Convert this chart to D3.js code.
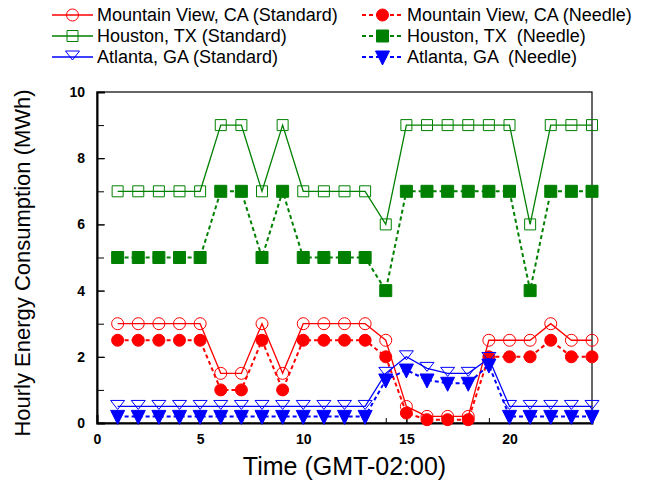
<!DOCTYPE html>
<html>
<head>
<meta charset="utf-8">
<script src="https://cdn.jsdelivr.net/npm/d3@7"></script>
<style>
  body { margin: 0; background: #fff; }
  text { font-family: "Liberation Sans", Arial, sans-serif; }
</style>
</head>
<body>
<div id="chart"></div>
<script>
// hours of the day
var hours = [1,2,3,4,5,6,7,8,9,10,11,12,13,14,15,16,17,18,19,20,21,22,23,24];

// series values (MWh)
var mvStandard  = [3,3,3,3,3,1.5,1.5,3,1.5,3,3,3,3,2.5,0.5,0.2,0.2,0.2,2.5,2.5,2.5,3,2.5,2.5];
var mvNeedle    = [2.5,2.5,2.5,2.5,2.5,1,1,2.5,1,2.5,2.5,2.5,2.5,2,0.3,0.1,0.1,0.1,2,2,2,2.5,2,2];
var houStandard = [7,7,7,7,7,9,9,7,9,7,7,7,7,6,9,9,9,9,9,9,6,9,9,9];
var houNeedle   = [5,5,5,5,5,7,7,5,7,5,5,5,5,4,7,7,7,7,7,7,4,7,7,7];
var atlStandard = [0.5,0.5,0.5,0.5,0.5,0.5,0.5,0.5,0.5,0.5,0.5,0.5,0.5,1.5,2,1.65,1.5,1.5,1.95,0.5,0.5,0.5,0.5,0.5];
var atlNeedle   = [0.2,0.2,0.2,0.2,0.2,0.2,0.2,0.2,0.2,0.2,0.2,0.2,0.2,1.3,1.6,1.3,1.2,1.2,1.75,0.2,0.2,0.2,0.2,0.2];

// tick labels
var xTickLabels = [0,5,10,15,20];
var yTickLabels = [0,2,4,6,8,10];

var series = [
  {name: "Mountain View, CA (Standard)", values: mvStandard,  color: "#ff0000", dashed: false, marker: "circle",  filled: false},
  {name: "Mountain View, CA (Needle)",   values: mvNeedle,    color: "#ff0000", dashed: true,  marker: "circle",  filled: true},
  {name: "Houston, TX (Standard)",       values: houStandard, color: "#008000", dashed: false, marker: "square",  filled: false},
  {name: "Houston, TX  (Needle)",        values: houNeedle,   color: "#008000", dashed: true,  marker: "square",  filled: true},
  {name: "Atlanta, GA (Standard)",       values: atlStandard, color: "#0000ff", dashed: false, marker: "tri",     filled: false},
  {name: "Atlanta, GA  (Needle)",        values: atlNeedle,   color: "#0000ff", dashed: true,  marker: "tri",     filled: true}
];

var W = 657, H = 487;
var plotLeft = 97, plotRight = 592, plotTop = 92, plotBottom = 423;

var svg = d3.select("#chart")
  .append("svg")
    .attr("width", W)
    .attr("height", H);

var x = d3.scaleLinear().domain([0, 24]).range([plotLeft, plotRight]);
var y = d3.scaleLinear().domain([0, 10]).range([plotBottom, plotTop]);

// marker shapes, drawn around (0,0)
function markerPath(type, filled) {
  if (type == "circle") return "M-6,0a6,6 0 1,0 12,0a6,6 0 1,0 -12,0Z";
  if (type == "square") return filled ? "M-6,-6h12v12h-12Z" : "M-5.5,-5.5h11v11h-11Z";
  // down-pointing triangle
  return filled ? "M-7,-6L7,-6L0,8Z" : "M-7,-6L7,-6L0,3Z";
}

// frame
svg.append("rect")
  .attr("x", plotLeft).attr("y", plotTop)
  .attr("width", plotRight - plotLeft).attr("height", plotBottom - plotTop)
  .attr("fill", "none").attr("stroke", "#000").attr("stroke-width", 1.2);

// X axis (ticks point inward)
svg.append("g")
  .attr("transform", "translate(0," + plotBottom + ")")
  .call(d3.axisBottom(x).tickValues(hours).tickSize(-5).tickFormat(""))
  .call(g => g.select(".domain").remove());
svg.append("g")
  .attr("transform", "translate(0," + plotBottom + ")")
  .call(d3.axisBottom(x).tickValues(xTickLabels).tickSize(-8).tickPadding(11))
  .call(g => g.select(".domain").attr("stroke-width", 2))
  .call(g => g.selectAll("text")
      .attr("font-family", "Liberation Sans, Arial, sans-serif")
      .attr("font-weight", "bold").attr("font-size", 14).attr("fill", "#000"));

// Y axis
svg.append("g")
  .attr("transform", "translate(" + plotLeft + ",0)")
  .call(d3.axisLeft(y).ticks(10).tickSize(-7).tickFormat(""))
  .call(g => g.select(".domain").remove());
svg.append("g")
  .attr("transform", "translate(" + plotLeft + ",0)")
  .call(d3.axisLeft(y).tickValues(yTickLabels).tickSize(-8).tickPadding(12))
  .call(g => g.select(".domain").attr("stroke-width", 2))
  .call(g => g.selectAll("text")
      .attr("font-family", "Liberation Sans, Arial, sans-serif")
      .attr("font-weight", "bold").attr("font-size", 14).attr("fill", "#000"));

// lines and markers
var line = d3.line()
  .x(function (d, i) { return x(hours[i]); })
  .y(function (d) { return y(d); });

series.forEach(function (s) {
  svg.append("path")
    .datum(s.values)
    .attr("d", line)
    .attr("fill", "none")
    .attr("stroke", s.color)
    .attr("stroke-width", s.dashed ? 2 : 1.3)
    .attr("stroke-dasharray", s.dashed ? "4,3" : null);

  svg.append("g")
    .selectAll("path")
    .data(s.values)
    .enter()
    .append("path")
      .attr("transform", function (d, i) { return "translate(" + x(hours[i]) + "," + y(d) + ")"; })
      .attr("d", markerPath(s.marker, s.filled))
      .attr("fill", s.filled ? s.color : "none")
      .attr("stroke", s.color)
      .attr("stroke-width", 1);
});

// legend
var legend = svg.append("g");
series.forEach(function (s, i) {
  var col = i % 2, row = Math.floor(i / 2);
  var lx = col == 0 ? 52 : 362;
  var ly = 15 + row * 21;
  legend.append("line")
    .attr("x1", lx).attr("x2", lx + 41)
    .attr("y1", ly).attr("y2", ly)
    .attr("stroke", s.color)
    .attr("stroke-width", s.dashed ? 2 : 1.3)
    .attr("stroke-dasharray", s.dashed ? "4,3" : null);
  legend.append("path")
    .attr("transform", "translate(" + (lx + 20.5) + "," + ly + ")")
    .attr("d", markerPath(s.marker, s.filled))
    .attr("fill", s.filled ? s.color : "none")
    .attr("stroke", s.color)
    .attr("stroke-width", 1);
  legend.append("text")
    .attr("x", lx + 45)
    .attr("y", ly)
    .attr("dy", "0.35em")
    .attr("font-size", 18)
    .attr("fill", "#000")
    .style("white-space", "pre")
    .text(s.name);
});

// axis titles
svg.append("text")
  .attr("x", (plotLeft + plotRight) / 2)
  .attr("y", 475)
  .attr("text-anchor", "middle")
  .attr("font-size", 25)
  .text("Time (GMT-02:00)");

svg.append("text")
  .attr("transform", "translate(30," + 263 + ") rotate(-90)")
  .attr("text-anchor", "middle")
  .attr("font-size", 22)
  .text("Hourly Energy Consumption (MWh)");
</script>
</body>
</html>
